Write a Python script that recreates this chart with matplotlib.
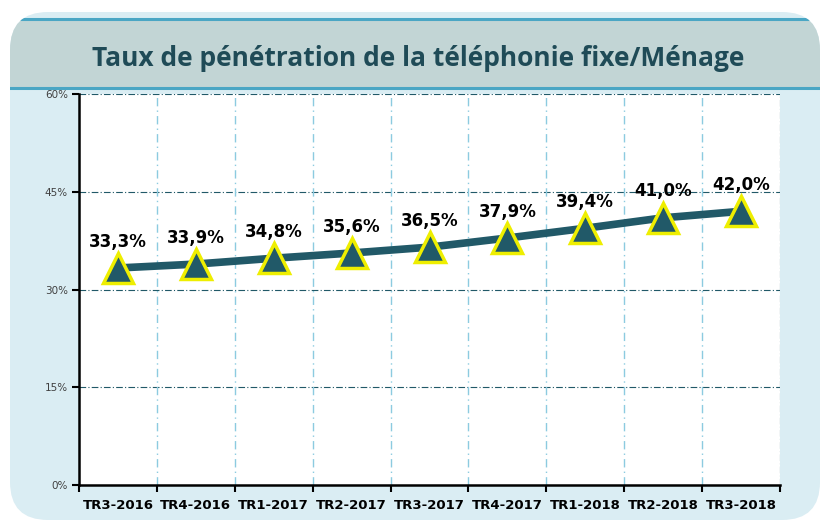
import numpy as np
import matplotlib.pyplot as plt
from matplotlib.patches import FancyBboxPatch, Rectangle

# donnees
trimestres = ["TR3-2016", "TR4-2016", "TR1-2017", "TR2-2017", "TR3-2017",
              "TR4-2017", "TR1-2018", "TR2-2018", "TR3-2018"]
taux = [33.3, 33.9, 34.8, 35.6, 36.5, 37.9, 39.4, 41.0, 42.0]
y_ticks = [0, 15, 30, 45, 60]

fond = "#daedf3"
bande = "#c2d5d5"
trait = "#4aa6c4"
sarcelle = "#215968"

W, H = 821, 526
fig = plt.figure(figsize=(W / 100, H / 100), dpi=100)
fig.patch.set_facecolor("white")

# calque de decor en pixels
deco = fig.add_axes([0, 0, 1, 1])
deco.set_xlim(0, W)
deco.set_ylim(H, 0)
deco.axis("off")

panneau = FancyBboxPatch((10, 12), 810, 508, boxstyle="round,pad=0,rounding_size=38",
                         facecolor=fond, edgecolor="none", zorder=0)
deco.add_patch(panneau)
r = Rectangle((0, 19), W, 69, facecolor=bande, edgecolor="none", zorder=1)
deco.add_patch(r)
r.set_clip_path(panneau)
for yl in (19, 88):
    l, = deco.plot([0, W], [yl, yl], color=trait, lw=2.2, zorder=2)
    l.set_clip_path(panneau)

deco.text(418, 58, "Taux de pénétration de la téléphonie fixe/Ménage",
          ha="center", va="center", fontsize=19, fontweight="bold",
          color="#1f4b57", family="Open Sans", zorder=3)

ax = fig.add_axes([79 / W, 1 - 485 / H, (780 - 79) / W, (485 - 94) / H])
ax.set_facecolor("white")

x = np.arange(len(trimestres))
ax.plot(x, taux, color=sarcelle, lw=5.5, solid_capstyle="round", zorder=3)
ax.plot(x, taux, ls="none", marker="^", ms=21, mfc=sarcelle, mec="#eeee00",
        mew=2.5, zorder=4)
for xi, v in zip(x, taux):
    ax.annotate(f"{v:.1f}%".replace(".", ","), (xi, v), xytext=(0, 12.5),
                textcoords="offset points", ha="center", va="bottom",
                fontsize=12, fontweight="bold", color="black", zorder=5)

ax.set_xlim(-0.5, len(trimestres) - 0.5)
ax.set_ylim(0, 60)
ax.set_yticks(y_ticks)
ax.set_yticklabels([f"{t}%" for t in y_ticks], fontsize=7.5, color="#404040")
ax.set_xticks(x)
ax.set_xticklabels(trimestres, fontsize=9.5, fontweight="bold")
ax.tick_params(axis="x", length=0, pad=10)
ax.set_xticks(np.arange(-0.5, len(trimestres)), minor=True)
ax.tick_params(axis="x", which="minor", length=5, width=1.5, direction="out")
ax.tick_params(axis="y", length=5, width=1.5, pad=3)

for t in y_ticks[1:]:
    ax.axhline(t, color=sarcelle, lw=0.8, ls=(0, (6, 2, 1, 2)), zorder=1)
for b in np.arange(0.5, len(trimestres) - 1):
    ax.axvline(b, color="#8ccbe0", lw=1.0, ls=(0, (6, 3, 1, 3)), zorder=1)

for s in ["top", "right"]:
    ax.spines[s].set_visible(False)
ax.axvline(len(trimestres) - 0.5, color=sarcelle, lw=0.8, ls=(0, (6, 2, 1, 2)),
           zorder=1)
ax.spines["left"].set_linewidth(1.8)
ax.spines["bottom"].set_linewidth(1.8)

fig.savefig("out.png", dpi=100, facecolor=fig.get_facecolor())
